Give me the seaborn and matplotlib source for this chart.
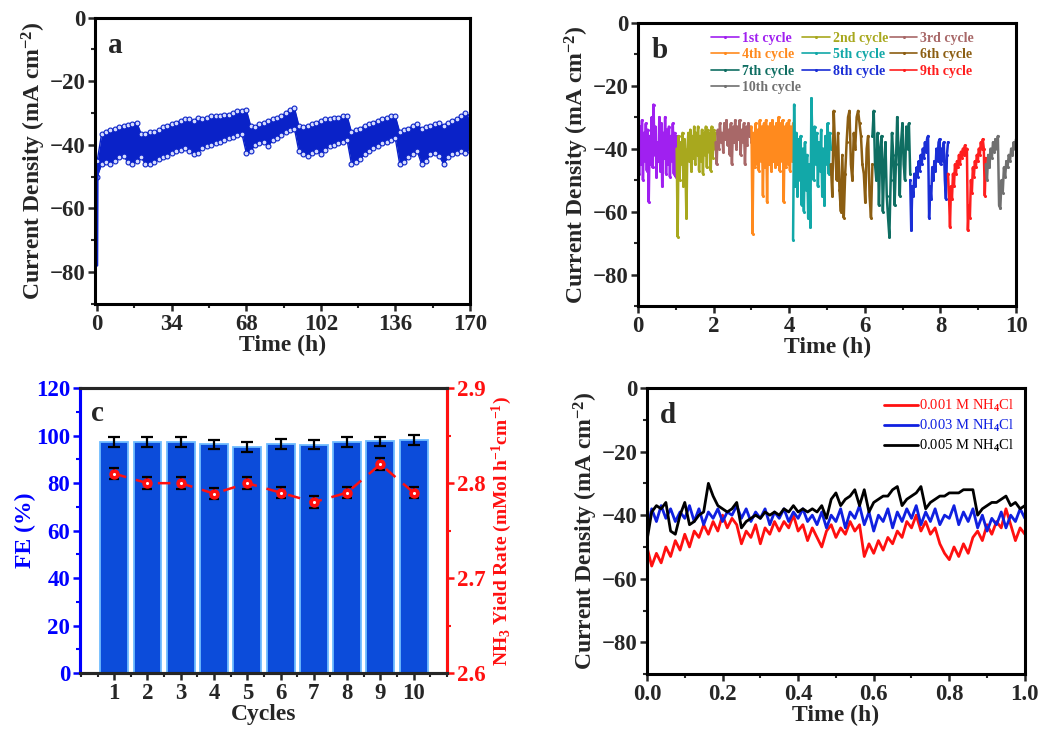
import numpy as np
import pandas as pd
import matplotlib
matplotlib.use("Agg")
import matplotlib.pyplot as plt
import seaborn as sns
from matplotlib.ticker import MultipleLocator

# ==========================================
# DATA
# ==========================================

# (a) long-term stability, upper / lower edge of the noisy band, every 2 h
time_a = np.arange(0, 171, 2)
band_a_upper = [
    -45, -36.5, -36, -35.5, -35, -34.5, -34, -33.8, -33.5, -33,
    -36.5, -36.5, -36, -36, -35.5, -34.5, -34, -33.5, -33, -32.5,
    -32, -32, -32.5, -31.5, -32, -31.5, -31, -31, -31, -30.5,
    -30.5, -30, -29.5, -29.5, -29, -34, -34.5, -33.5, -33, -32.5,
    -32, -31.5, -31, -30, -29, -28.5, -34, -34.5, -34, -33.5,
    -33, -32.5, -32, -32, -31.5, -31.5, -31, -31, -36, -35.5,
    -35, -34, -33.5, -33, -32.5, -32, -31.5, -31, -31, -36,
    -35.5, -35, -34, -33.5, -35, -34.5, -34, -33.5, -33, -34,
    -33, -32.5, -32, -31, -30, -31,
]
band_a_lower = [
    -50, -46, -45.5, -46, -45, -44, -43.5, -45.5, -46, -45,
    -44, -46, -46, -45.5, -44.5, -44, -43.5, -42.5, -42, -41.5,
    -41, -42, -43, -42.5, -41, -40.5, -40, -39.5, -39, -38.5,
    -38, -37.5, -37, -36.5, -42.5, -42, -40, -39.5, -39, -40.5,
    -38.5, -38, -37, -36, -35.5, -35, -42, -43, -43.5, -42.5,
    -42, -43, -41.5, -40.5, -40, -39.5, -39, -38.5, -46, -45.5,
    -44.5, -43, -42, -41, -40.5, -39.5, -39, -38.5, -38, -46,
    -45.5, -44, -43, -42, -46, -45, -43, -42.5, -43.5, -46,
    -44, -43, -42.5, -42, -42.5, -42,
]
start_t = [0, 0.15, 0.4]
start_j = [-78, -50, -46]

# (b) ten cycles of 1 h
cycle_labels = ["1st cycle", "2nd cycle", "3rd cycle", "4th cycle", "5th cycle",
                "6th cycle", "7th cycle", "8th cycle", "9th cycle", "10th cycle"]
cycle_colors = ["#A020F0", "#A8A81E", "#A86868", "#FF8A1E", "#12A8A8",
                "#8C5E12", "#0F6E62", "#1A2ED6", "#FF1E1E", "#707070"]
cycle_edges = [0, 1.02, 2.05, 3.0, 4.1, 5.1, 6.2, 7.2, 8.2, 9.2, 10.0]
cycle_values = [
    [-30, -48, -33, -45, -31, -50, -35, -44, -32, -47, -34, -57, -36, -45, -30, -46,
     -26, -42, -33, -49, -38, -44, -30, -47, -32, -52, -35, -43, -30, -48, -34, -45,
     -33, -49, -36, -44, -32, -48, -35, -49, -36],
    [-40, -68, -36, -50, -38, -45, -35, -52, -37, -46, -62, -40, -35, -44, -34, -47,
     -36, -43, -33, -45, -35, -42, -33, -47, -36, -44, -34, -48, -35, -42, -33, -46,
     -34, -41, -35, -47, -33, -43, -34, -40, -35],
    [-38, -45, -34, -40, -32, -38, -35, -41, -32, -37, -31, -39, -34, -42, -32, -45,
     -33, -38, -31, -40, -33, -37, -31, -42, -34, -38, -32, -45, -33, -39, -32, -36,
     -33, -38],
    [-33, -67, -35, -46, -32, -45, -34, -47, -31, -44, -33, -55, -32, -46, -31, -57,
     -33, -45, -32, -47, -31, -44, -33, -46, -32, -45, -30, -47, -32, -44, -31, -57,
     -33, -46, -32, -45, -31, -47, -33, -44, -32],
    [-69, -26, -52, -35, -55, -37, -50, -36, -58, -40, -60, -38, -53, -42, -62, -45,
     -65, -24, -40, -50, -33, -45, -35, -52, -38, -47, -34, -55, -40, -58, -36, -45,
     -32, -48, -35, -40],
    [-45, -55, -28, -40, -50, -35, -53, -60, -42, -62, -48, -38, -30, -28, -45, -50,
     -35, -40, -30, -28, -32, -36, -45, -48, -57, -40, -36, -55, -62, -45],
    [-36, -28, -45, -50, -35, -58, -40, -36, -60, -45, -38, -55, -62, -68, -50, -35,
     -42, -58, -45, -30, -40, -55, -38, -32, -45, -50, -33, -40, -32, -48],
    [-50, -66, -52, -55, -48, -52, -46, -49, -44, -47, -42, -45, -40, -43, -38, -41,
     -37, -36, -62, -52, -56, -46, -50, -44, -47, -40, -44, -38, -37, -45, -40, -44,
     -38, -50, -56, -42, -38],
    [-48, -55, -65, -52, -56, -48, -52, -45, -48, -44, -46, -42, -45, -41, -43, -40,
     -42, -39, -42, -40, -66, -58, -62, -50, -54, -46, -49, -44, -46, -42, -44, -40,
     -42, -38, -40, -37, -40, -55, -43],
    [-45, -50, -42, -46, -40, -43, -38, -41, -37, -40, -36, -58, -59, -50, -54, -46,
     -49, -44, -46, -42, -44, -40, -42, -38, -40, -37],
]

# (c) FE and NH3 yield per cycle
cycles = [1, 2, 3, 4, 5, 6, 7, 8, 9, 10]
fe = [97.3, 97.3, 97.3, 96.4, 95.2, 96.5, 96.2, 97.3, 97.6, 98.3]
fe_err = [2.0, 2.0, 2.0, 2.0, 2.0, 2.0, 2.0, 2.2, 2.0, 2.2]
nh3_rate = [2.81, 2.80, 2.80, 2.789, 2.80, 2.79, 2.78, 2.79, 2.82, 2.79]
nh3_err = [0.006, 0.006, 0.006, 0.006, 0.006, 0.006, 0.006, 0.006, 0.006, 0.006]

# (d) different NH4Cl concentrations
d_labels = ["0.001 M NH$_\\mathrm{4}$Cl", "0.003 M NH$_\\mathrm{4}$Cl", "0.005 M NH$_\\mathrm{4}$Cl"]
d_colors = ["#FF1010", "#1020E0", "#000000"]
j_001 = [
    -50, -56, -52, -55, -50, -53, -48, -51, -46, -50, -45, -47, -43, -46, -42, -45,
    -40, -44, -41, -43, -49, -45, -47, -43, -49, -44, -46, -42, -45, -42, -44, -40,
    -45, -43, -48, -44, -47, -50, -45, -43, -47, -44, -46, -42, -45, -43, -53, -49,
    -52, -48, -51, -47, -49, -45, -47, -42, -44, -40, -45, -42, -46, -44, -49, -52,
    -54, -50, -53, -49, -52, -47, -45, -48, -43, -46, -42, -44, -38, -43, -48, -44,
    -46,
]
j_003 = [
    -45, -38, -42, -37, -41, -38, -42, -39, -41, -37, -42, -38, -43, -39, -41, -38,
    -42, -39, -40, -37, -41, -38, -42, -39, -41, -38, -43, -39, -41, -38, -42, -39,
    -41, -38, -42, -40, -43, -39, -44, -40, -42, -38, -44, -39, -41, -37, -43, -39,
    -45, -40, -42, -38, -44, -39, -42, -38, -41, -37, -43, -39, -42, -38, -43, -40,
    -41, -37, -43, -39, -42, -38, -44, -40, -45, -41, -43, -39, -44, -40, -42, -38,
    -41,
]
j_005 = [
    -48, -39, -37, -38, -36, -45, -46, -40, -36, -43, -42, -40, -39, -30, -34, -37,
    -38, -39, -38, -36, -44, -42, -41, -40, -41, -39, -40, -39, -40, -38, -39, -37,
    -39, -38, -39, -38, -39, -37, -41, -35, -33, -37, -35, -34, -32, -37, -32, -39,
    -36, -35, -34, -34, -32, -31, -37, -35, -34, -33, -31, -38, -36, -35, -34, -34,
    -33, -33, -33, -32, -32, -32, -40, -38, -37, -36, -36, -35, -34, -37, -36, -38,
    -37,
]

# ==========================================
# STYLE
# ==========================================

sns.set_style("ticks")
plt.rcParams["font.family"] = ["Liberation Serif", "DejaVu Serif"]
plt.rcParams["font.weight"] = "bold"
plt.rcParams["axes.labelweight"] = "bold"
plt.rcParams["mathtext.fontset"] = "custom"
plt.rcParams["mathtext.rm"] = "Liberation Serif"
plt.rcParams["mathtext.bf"] = "Liberation Serif:bold"
plt.rcParams["mathtext.default"] = "bf"
plt.rcParams["hatch.linewidth"] = 0.5

TICK = 16.5
LABEL = 17


def frame(ax, lw=2.2):
    for s in ax.spines.values():
        s.set_linewidth(lw)
        s.set_color("black")
    ax.tick_params(which="major", direction="out", length=5, width=1.8,
                   labelsize=TICK, pad=2)
    ax.tick_params(which="minor", direction="out", length=3, width=1.5)
    ax.tick_params(top=False, right=False)


def current_axis(ax):
    ax.set_ylim(-90, 0)
    ax.yaxis.set_major_locator(MultipleLocator(20))
    ax.yaxis.set_minor_locator(MultipleLocator(10))
    ax.set_ylabel("Current Density (mA cm$^{-2}$)", fontsize=LABEL, labelpad=1)
    ax.set_xlabel("Time (h)", fontsize=LABEL, labelpad=0)


fig = plt.figure(figsize=(10.41, 7.32), dpi=100)

# ==========================================
# (a)
# ==========================================

ax_a = fig.add_axes([0.0913, 0.585, 0.360, 0.391])
blue_a = "#0A22C8"
ax_a.fill_between(time_a, band_a_lower, band_a_upper, color=blue_a, lw=0)
for edge in (band_a_upper, band_a_lower):
    sns.lineplot(x=time_a, y=edge, ax=ax_a, color=blue_a, lw=1,
                 marker="o", markersize=3.5, markerfacecolor="#d6dcff",
                 markeredgecolor=blue_a, markeredgewidth=0.8,
                 estimator=None, sort=False)
sns.lineplot(x=start_t, y=start_j, ax=ax_a, color=blue_a, lw=1.5,
             estimator=None, sort=False)
ax_a.set_xlim(-1, 170)
ax_a.set_xticks([0, 34, 68, 102, 136, 170])
ax_a.xaxis.set_minor_locator(MultipleLocator(17))
current_axis(ax_a)
frame(ax_a)
ax_a.text(0.035, 0.95, "a", transform=ax_a.transAxes, fontsize=21,
          fontweight="bold", va="top")

# ==========================================
# (b)
# ==========================================

ax_b = fig.add_axes([0.613, 0.582, 0.363, 0.387])
for i, vals in enumerate(cycle_values):
    t = np.linspace(cycle_edges[i], cycle_edges[i + 1], len(vals))
    sns.lineplot(x=t, y=vals, ax=ax_b, color=cycle_colors[i], lw=1.8,
                 marker="o", markersize=2.2, markeredgewidth=0,
                 estimator=None, sort=False, label=cycle_labels[i])
ax_b.set_xlim(0, 10)
ax_b.xaxis.set_major_locator(MultipleLocator(2))
ax_b.xaxis.set_minor_locator(MultipleLocator(1))
current_axis(ax_b)
frame(ax_b)
h, l = ax_b.get_legend_handles_labels()
order = [0, 3, 6, 9, 1, 4, 7, 2, 5, 8]
leg = ax_b.legend([h[k] for k in order], [l[k] for k in order], ncol=3,
                  loc="upper left", bbox_to_anchor=(0.17, 1.0), frameon=False,
                  fontsize=10, handlelength=2.0, handletextpad=0.2,
                  columnspacing=0.1, labelspacing=0.25, borderaxespad=0.25)
for line in leg.get_lines():
    line.set_linewidth(1.2)
for txt, k in zip(leg.get_texts(), order):
    txt.set_color(cycle_colors[k])
    txt.set_fontweight("bold")
ax_b.text(0.035, 0.95, "b", transform=ax_b.transAxes, fontsize=21,
          fontweight="bold", va="top")

# ==========================================
# (c)
# ==========================================

ax_c = fig.add_axes([0.0768, 0.0806, 0.3525, 0.389])
bar_df = pd.DataFrame({"Cycle": cycles, "FE": fe})
sns.barplot(data=bar_df, x="Cycle", y="FE", ax=ax_c, native_scale=True,
            color="#2270FF", saturation=1, width=0.84, hatch="+" * 22,
            edgecolor="#0C4CDA", linewidth=0, errorbar=None)
ax_c.bar(cycles, fe, width=0.84, fill=False, edgecolor="#6FBCFF", linewidth=1.3)
ax_c.errorbar(cycles, fe, yerr=fe_err, fmt="none", ecolor="black",
              elinewidth=1.6, capsize=4, capthick=1.6)
ax_c.set_xlim(-0.03, 11)
ax_c.set_ylim(0, 120)
ax_c.set_xticks(cycles)
ax_c.xaxis.set_minor_locator(MultipleLocator(0.5))
ax_c.yaxis.set_major_locator(MultipleLocator(20))
ax_c.yaxis.set_minor_locator(MultipleLocator(10))
frame(ax_c)
ax_c.spines["left"].set_color("#0000FF")
ax_c.tick_params(axis="y", which="both", colors="#0000FF")
ax_c.set_ylabel("FE (%)", color="#0000FF", fontsize=LABEL, labelpad=0)
ax_c.set_xlabel("Cycles", fontsize=LABEL, labelpad=0)
ax_c.text(0.03, 0.96, "c", transform=ax_c.transAxes, fontsize=21,
          fontweight="bold", va="top")

ax_c2 = ax_c.twinx()
ax_c2.errorbar(cycles, nh3_rate, yerr=nh3_err, fmt="none", ecolor="black",
               elinewidth=1.6, capsize=3.5, capthick=1.6)
sns.lineplot(x=cycles, y=nh3_rate, ax=ax_c2, color="#FF1010", lw=1.8,
             linestyle=(0, (5, 4)), marker="o", markersize=6.5,
             markerfacecolor="#FF1010", markeredgecolor="#FF1010",
             markeredgewidth=1, estimator=None, sort=False)
sns.scatterplot(x=cycles, y=nh3_rate, ax=ax_c2, color="white", s=5,
                linewidth=0, zorder=5)
ax_c2.set_ylim(2.6, 2.9)
ax_c2.yaxis.set_major_locator(MultipleLocator(0.1))
ax_c2.yaxis.set_minor_locator(MultipleLocator(0.05))
for s in ax_c2.spines.values():
    s.set_linewidth(2.2)
ax_c2.spines["right"].set_color("#FF1010")
ax_c2.spines["left"].set_color("#0000FF")
ax_c2.tick_params(which="major", direction="out", length=5, width=1.8,
                  labelsize=TICK, colors="#FF1010", pad=2)
ax_c2.tick_params(which="minor", direction="out", length=3, width=1.5,
                  colors="#FF1010")
ax_c2.set_ylabel("NH$_3$ Yield Rate (mMol h$^{-1}$cm$^{-1}$)", color="#FF1010",
                 fontsize=14, labelpad=3)

# ==========================================
# (d)
# ==========================================

ax_d = fig.add_axes([0.6215, 0.079, 0.363, 0.391])
for vals, lab, col in zip([j_001, j_003, j_005], d_labels, d_colors):
    t = np.linspace(0, 1, len(vals))
    sns.lineplot(x=t, y=vals, ax=ax_d, color=col, lw=2.0,
                 estimator=None, sort=False, label=lab)
ax_d.set_xlim(0, 1)
ax_d.xaxis.set_major_locator(MultipleLocator(0.2))
ax_d.xaxis.set_minor_locator(MultipleLocator(0.1))
ax_d.xaxis.set_major_formatter(matplotlib.ticker.FormatStrFormatter("%.1f"))
current_axis(ax_d)
frame(ax_d)
leg_d = ax_d.legend(loc="upper right", frameon=False, fontsize=10.5,
                    handlelength=2.3, handletextpad=0.1, labelspacing=0.25,
                    borderaxespad=0.3)
for txt, col in zip(leg_d.get_texts(), d_colors):
    txt.set_color(col)
    txt.set_fontweight("normal")
ax_d.text(0.035, 0.95, "d", transform=ax_d.transAxes, fontsize=21,
          fontweight="bold", va="top")

fig.savefig("out.png", dpi=100)
